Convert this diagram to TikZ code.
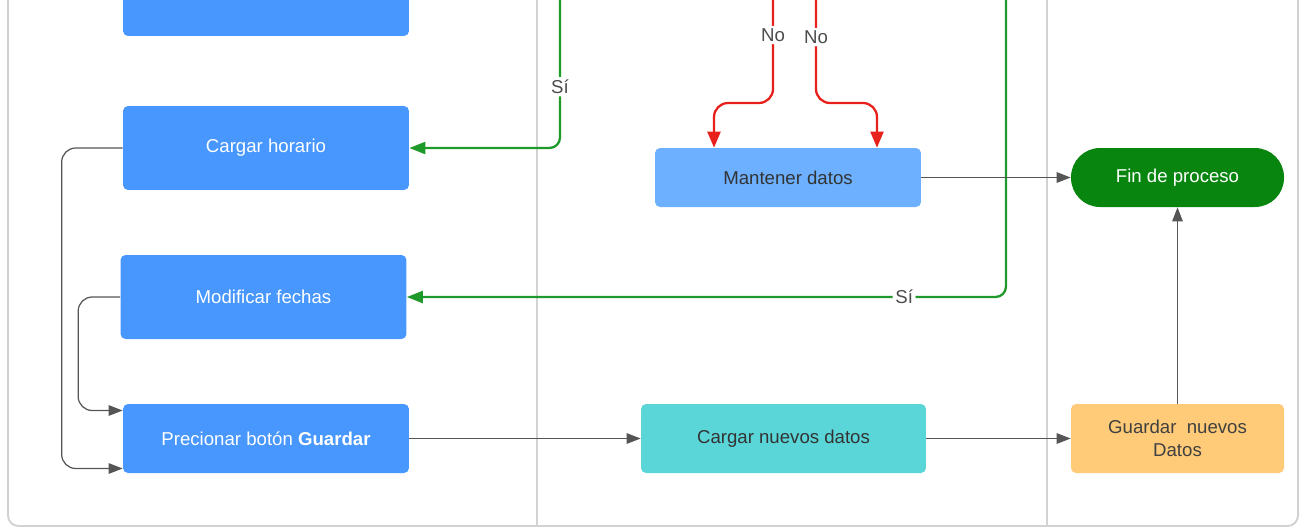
\documentclass[tikz,border=0pt]{standalone}
\usepackage{fontspec}
\setmainfont{Liberation Sans}
\usepackage{tikz}
\usetikzlibrary{arrows.meta,positioning,calc}

\definecolor{taskblue}{HTML}{4797FE}
\definecolor{lightblue}{HTML}{6CB0FF}
\definecolor{tealbox}{HTML}{5AD6D8}
\definecolor{savebox}{HTML}{FFCB78}
\definecolor{endgreen}{HTML}{08850F}
\definecolor{yesgreen}{HTML}{1F9A2A}
\definecolor{nored}{HTML}{E8201C}
\definecolor{lanegray}{HTML}{D2D2D2}
\definecolor{linegray}{HTML}{555555}

\begin{document}
\begin{tikzpicture}[
  x=0.02cm, y=-0.02cm,
  font=\fontsize{10.6}{13}\selectfont,
  task/.style={fill=taskblue, text=white, rounded corners=1mm, align=center, minimum width=5.72cm, minimum height=1.68cm},
  light/.style={fill=lightblue, text=black!80, rounded corners=1mm, align=center, minimum width=5.32cm, minimum height=1.18cm},
  teal/.style={fill=tealbox, text=black!80, rounded corners=1mm, align=center, minimum width=5.7cm, minimum height=1.38cm},
  save/.style={fill=savebox, text=black!75, rounded corners=1mm, align=center, minimum width=4.26cm, minimum height=1.38cm},
  endnode/.style={fill=endgreen, text=white, rounded corners=5.8mm, minimum width=4.26cm, minimum height=1.18cm},
  lane/.style={draw=lanegray, line width=1.1pt},
  arrow/.style={-{Triangle[length=2.8mm, width=2.1mm]}, draw=linegray, line width=0.7pt},
  yes/.style={-{Triangle[length=3.2mm, width=2.4mm]}, draw=yesgreen, line width=1.3pt, rounded corners=6pt},
  no/.style={-{Triangle[length=3.2mm, width=2.6mm]}, draw=nored, line width=1.3pt, rounded corners=8pt},
  lbl/.style={fill=white, text=black!70, inner sep=1.5pt}
]
\useasboundingbox (0,0) rectangle (1307,528);

% lanes
\draw[lane, rounded corners=6pt] (8,-10) -- (8,526) -- (1298,526) -- (1298,-10);
\draw[lane] (537,-10) -- (537,526);
\draw[lane] (1047,-10) -- (1047,526);

% nodes
\node[task] (prev) at (266,-6) {};
\node[task] (horario) at (266,148) {Cargar horario};
\node[task] (fechas) at (263.5,297) {Modificar fechas};
\node[task, minimum height=1.38cm] (guardar) at (266,438.5) {Precionar botón \textbf{Guardar}};
\node[light] (mantener) at (788,177.5) {Mantener datos};
\node[endnode] (fin) at (1177.5,177.5) {Fin de proceso};
\node[teal] (cargar) at (783.5,438.5) {Cargar nuevos datos};
\node[save] (nuevos) at (1177.5,438.5) {Guardar\ \ nuevos\\Datos};

% incoming ends
\coordinate (siA) at (560,-5);
\coordinate (siB) at (1006,-5);
\coordinate (noA) at (773,-5);
\coordinate (noB) at (816,-5);

% connectors
\draw[yes] (siA) |- node[lbl, pos=0.3] {Sí} (horario.east);
\draw[yes] (siB) |- node[lbl, pos=0.585] {Sí} (fechas.east);
\draw[no] (noA) -- node[lbl, pos=0.37] {No} ++(0,108) -| ([xshift=-1.48cm]mantener.north);
\draw[no] (noB) -- node[lbl, pos=0.39] {No} ++(0,108) -| ([xshift=1.78cm]mantener.north);
\draw[arrow] (mantener) -- (fin);
\draw[arrow] (nuevos) -- (fin);
\draw[arrow] (guardar) -- (cargar);
\draw[arrow] (cargar) -- (nuevos);
\draw[arrow, rounded corners=8pt] (horario.west) -- ++(-61,0) |- ([yshift=-0.6cm]guardar.west);
\draw[arrow, rounded corners=8pt] (fechas.west) -- ++(-42,0) |- ([yshift=0.56cm]guardar.west);
\end{tikzpicture}
\end{document}
